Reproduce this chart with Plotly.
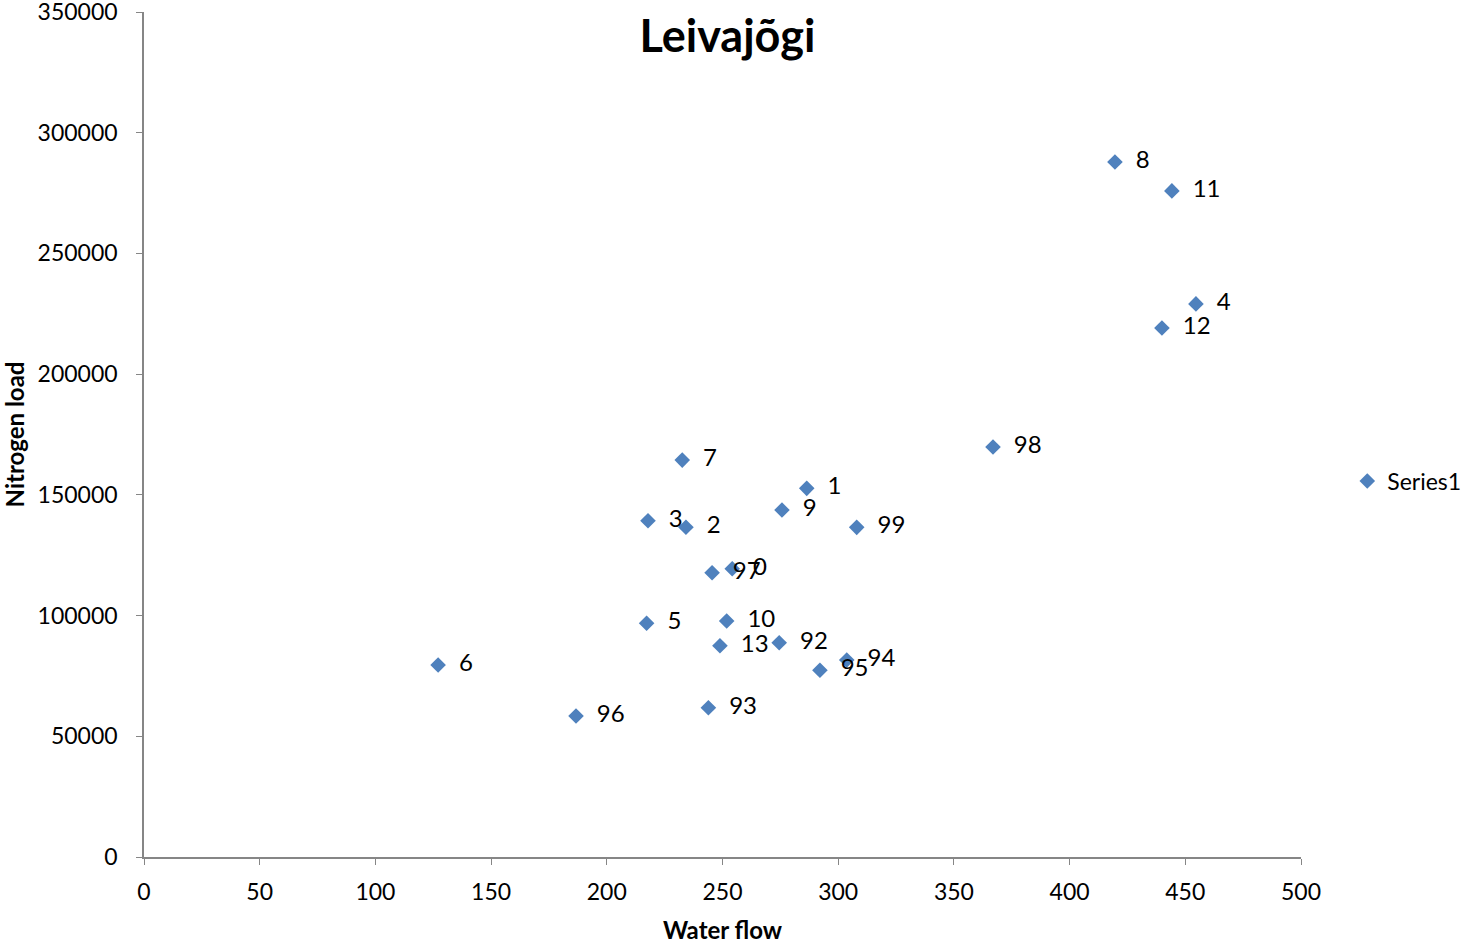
import plotly.graph_objects as go

# year labels, water flow and nitrogen load
years = ["0", "1", "2", "3", "4", "5", "6", "7", "8", "9", "10", "11", "12", "13",
         "92", "93", "94", "95", "96", "97", "98", "99"]
water_flow = [254.2, 286.4, 234.2, 217.8, 454.6, 217.2, 127.1, 232.6, 419.6, 275.7, 251.8,
              444.2, 439.9, 248.9, 274.5, 243.9, 303.7, 292.1, 186.7, 245.5, 366.9, 308.0]
nitrogen_load = [119400, 152700, 136600, 139300, 229100, 96800, 79500, 164400, 287900, 143700,
                 97750, 275900, 219100, 87500, 88750, 61850, 81600, 77350, 58400, 117750,
                 169800, 136550]
x_ticks = [0, 50, 100, 150, 200, 250, 300, 350, 400, 450, 500]
y_ticks = [0, 50000, 100000, 150000, 200000, 250000, 300000, 350000]

FONT = "Lato, Carlito, Calibri, sans-serif"
AXIS_GREY = "#868686"
PAD = "\u00a0\u00a0"  # push labels away from the markers like Excel does

fig = go.Figure()

fig.add_trace(go.Scatter(
    x=water_flow,
    y=nitrogen_load,
    mode="markers+text",
    name="Series1",
    text=years,
    texttemplate=PAD + "%{text}",
    textposition="middle right",
    textfont=dict(family=FONT, size=24, color="black"),
    marker=dict(symbol="diamond", size=12, color="#4F81BD"),
    showlegend=True,
))

fig.update_layout(
    width=1462,
    height=944,
    paper_bgcolor="white",
    plot_bgcolor="white",
    margin=dict(l=144, r=161, t=12, b=87, autoexpand=False),
    font=dict(family=FONT, size=24, color="black"),
    title=dict(
        text="<b>Leivajõgi</b>",
        font=dict(family=FONT, size=45, color="black"),
        x=0.5043, xref="paper", xanchor="center",
        y=1 - 36 / 944, yref="container", yanchor="middle",
        automargin=False,
    ),
    legend=dict(
        x=1.040, xanchor="left",
        y=0.445, yanchor="middle",
        font=dict(family=FONT, size=23, color="black"),
        bgcolor="rgba(0,0,0,0)",
        itemsizing="constant",
    ),
    xaxis=dict(
        range=[0, 500],
        tickmode="array",
        tickvals=x_ticks,
        showgrid=False,
        zeroline=False,
        showline=True,
        linecolor=AXIS_GREY,
        linewidth=1.5,
        ticks="outside",
        ticklen=6,
        tickcolor=AXIS_GREY,
        ticklabelstandoff=8,
        tickfont=dict(family=FONT, size=23),
        automargin=False,
        title=dict(text="<b>Water flow</b>", font=dict(family=FONT, size=24), standoff=22),
    ),
    yaxis=dict(
        range=[0, 350000],
        tickmode="array",
        tickvals=y_ticks,
        tickformat="d",
        showgrid=False,
        zeroline=False,
        showline=True,
        linecolor=AXIS_GREY,
        linewidth=1.5,
        ticks="outside",
        ticklen=6,
        tickcolor=AXIS_GREY,
        ticklabelstandoff=14,
        ticklabeloverflow="allow",
        tickfont=dict(family=FONT, size=23),
        automargin=False,
        title=dict(text="<b>Nitrogen load</b>", font=dict(family=FONT, size=24), standoff=12),
    ),
)

# drop the default 8px page margin so the figure sits at the window's corner
fig.write_html(
    "out.html",
    config={"displayModeBar": False},
    post_script="document.body.style.margin='0';document.body.style.overflow='hidden';",
)
